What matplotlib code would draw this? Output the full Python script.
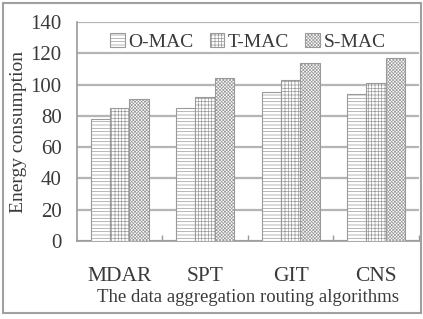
import numpy as np
import matplotlib
matplotlib.use('Agg')
import matplotlib.pyplot as plt
import matplotlib.patches as patches

# Dados do gráfico
algoritmos = ['MDAR', 'SPT', 'GIT', 'CNS']
series = ['O-MAC', 'T-MAC', 'S-MAC']
o_mac = [78, 85, 95, 94]
t_mac = [85, 92, 103, 101]
s_mac = [91, 104, 114, 117]
yticks = [0, 20, 40, 60, 80, 100, 120, 140]

plt.rcParams['font.family'] = ['Liberation Serif', 'DejaVu Serif']
plt.rcParams['hatch.linewidth'] = 0.5
cor_texto = '#3a3a3a'
cor_cinza = '#9a9a9a'

fig = plt.figure(figsize=(4.23, 3.19), dpi=100)
ax = fig.add_axes([0.182, 0.2445, 0.808, 0.6865])

x = np.arange(len(algoritmos))
largura = 0.227
hachuras = ['-----', '+++++', 'xxxxxxxxxx']
for i, (nome, valores) in enumerate(zip(series, [o_mac, t_mac, s_mac])):
    ax.bar(x + (i - 1) * largura, valores, largura, label=nome,
           facecolor='white', edgecolor=cor_cinza, hatch=hachuras[i],
           linewidth=0.8, zorder=3)

ax.set_xlim(-0.5, len(algoritmos) - 0.5)
ax.set_ylim(0, 140)
ax.set_yticks(yticks)
ax.set_yticklabels([str(v) for v in yticks], fontsize=15, color=cor_texto)
ax.yaxis.grid(True, color='#b5b5b5', linewidth=1.6, zorder=0)
ax.tick_params(axis='y', length=0, pad=11)

ax.set_xticks(x + 0.5, minor=True)
ax.set_xticks(x)
ax.set_xticklabels(algoritmos, fontsize=15.5, color=cor_texto)
ax.tick_params(axis='x', which='major', length=0, pad=19)
ax.tick_params(axis='x', which='minor', direction='in', length=4,
               color=cor_cinza, width=1)

for lado in ['top', 'right']:
    ax.spines[lado].set_visible(False)
for lado in ['left', 'bottom']:
    ax.spines[lado].set_color(cor_cinza)
    ax.spines[lado].set_linewidth(1.2)

ax.set_xlabel('The data aggregation routing algorithms', fontsize=13.5,
              color=cor_texto)
ax.xaxis.set_label_coords(0.5, -0.258)
ax.xaxis.label.set_va('center')
ax.set_ylabel('Energy consumption', fontsize=14, color=cor_texto)
ax.yaxis.set_label_coords(-0.172, 0.5)
ax.yaxis.label.set_va('center')

leg = ax.legend(loc='upper center', bbox_to_anchor=(0.5, 1.0), ncol=3,
                frameon=False, fontsize=14, handlelength=0.75,
                handleheight=0.75, handletextpad=0.2, columnspacing=0.8,
                borderaxespad=0.15)
for t in leg.get_texts():
    t.set_color(cor_texto)

# Moldura externa
fig.patches.append(patches.Rectangle((0.007, 0.02), 0.988, 0.972,
                                     transform=fig.transFigure, fill=False,
                                     edgecolor='#a0a0a0', linewidth=1.5))

fig.savefig('out.png', dpi=100)
